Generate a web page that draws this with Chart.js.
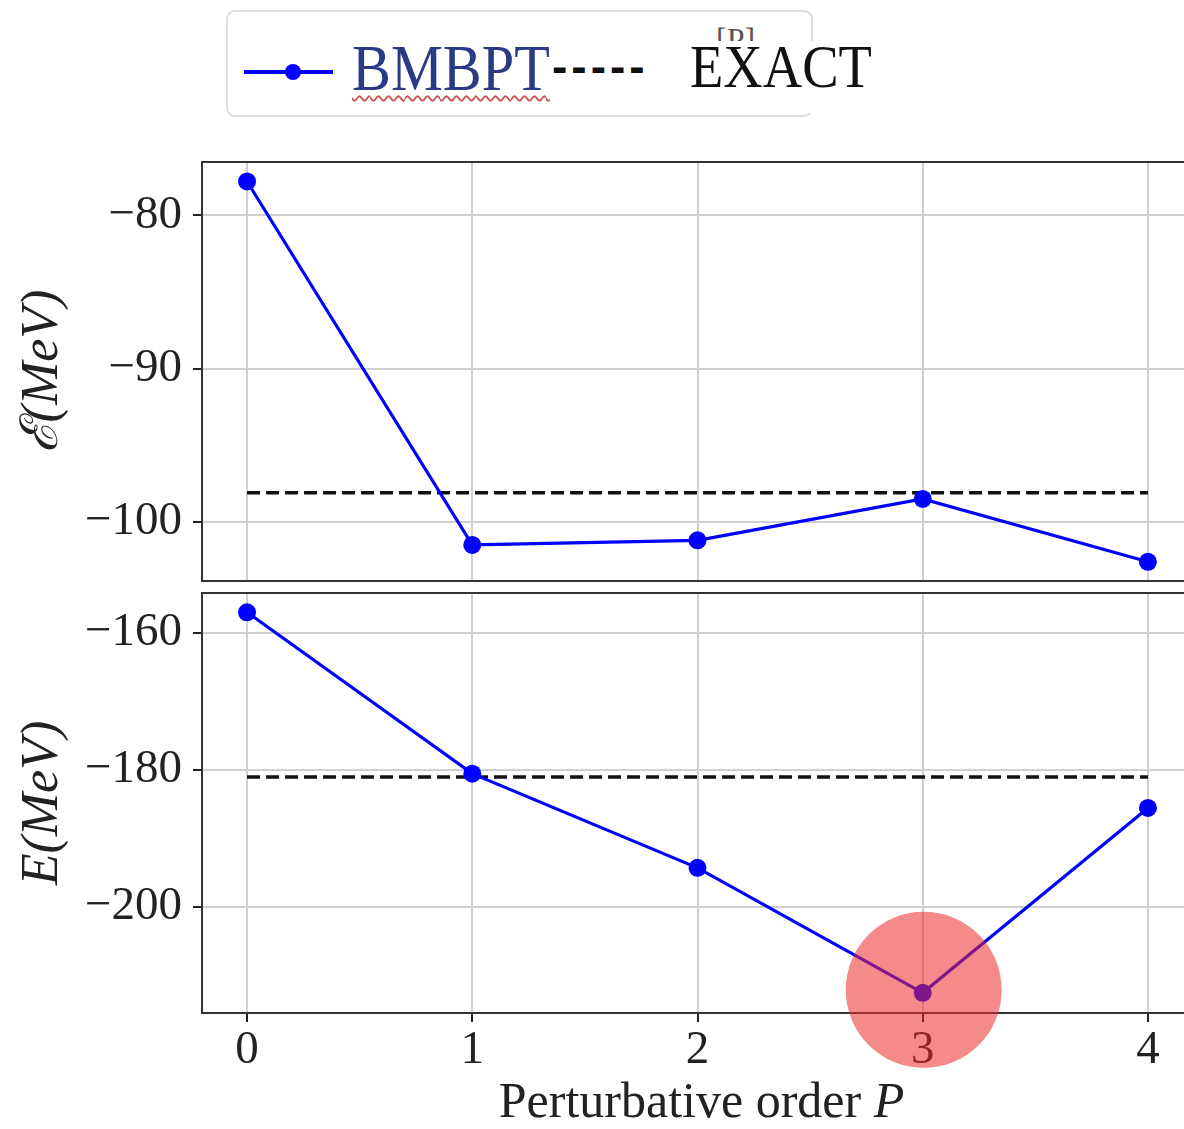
<!DOCTYPE html>
<html>
<head>
<meta charset="utf-8">
<script src="https://cdn.jsdelivr.net/npm/chart.js@4.4.0/dist/chart.umd.min.js"></script>
<style>
  html, body { margin: 0; padding: 0; background: #fff; overflow: hidden; }
  #page { position: relative; width: 1184px; height: 1129px; overflow: hidden; background: #fff; }
  .abs { position: absolute; }
  #legendBox { left: 226px; top: 10px; width: 587px; height: 107px; box-sizing: border-box;
               border: 2px solid #dcdcdc; border-radius: 9px; background: #fff; }
  #lgLine { left: 244px; top: 70px; width: 89px; height: 4px; background: #0000ff; }
  #lgDot { left: 285px; top: 64px; width: 16px; height: 16px; border-radius: 50%; background: #0000ff; }
  #lgName { left: 352px; top: 35px; font-family: 'Liberation Serif', serif; font-size: 66px; line-height: 1;
            color: #2b3a86; white-space: nowrap; transform: scaleX(0.884); transform-origin: left top;
            text-decoration: underline wavy #c85050; text-decoration-thickness: 1.5px; text-underline-offset: 5px; }
  #lgDash { left: 552px; top: 43px; font-family: 'Liberation Sans', sans-serif; font-weight: bold; font-size: 46px;
            line-height: 1; letter-spacing: 4px; color: #111; white-space: nowrap; }
  #lgRef { left: 716px; top: 23px; font-family: 'Liberation Serif', serif; font-size: 32px; line-height: 1; color: #555; }
  #lgCover { left: 684px; top: 41px; width: 220px; height: 72px; background: #fff; }
  #lgExact { left: 690px; top: 35px; font-family: 'Liberation Serif', serif; font-size: 62px; line-height: 1;
             color: #111; white-space: nowrap; transform: scaleX(0.88); transform-origin: left top; }
  canvas { position: absolute; left: 0; }
</style>
</head>
<body>
<div id="page">
  <div id="legendBox" class="abs"></div>
  <div id="lgLine" class="abs"></div>
  <div id="lgDot" class="abs"></div>
  <div id="lgName" class="abs">BMBPT</div>
  <div id="lgDash" class="abs">-----</div>
  <div id="lgRef" class="abs">[P]</div>
  <div id="lgCover" class="abs"></div>
  <div id="lgExact" class="abs">EXACT</div>

  <canvas id="epsChart" width="1240" height="440" style="top:150px;width:1240px;height:440px"></canvas>
  <canvas id="energyChart" width="1240" height="546" style="top:583px;width:1240px;height:546px"></canvas>
</div>

<script>
// Perturbative orders on the shared x axis
const orders = [0, 1, 2, 3, 4];

// Upper panel: ℰ (MeV) per order, and the exact reference value
const bmbptEps = [-77.8, -101.5, -101.2, -98.5, -102.6];
const exactEps = -98.1;

// Lower panel: E (MeV) per order, and the exact reference value
const bmbptE = [-157.05, -180.6, -194.35, -212.6, -185.6];
const exactE = -181.1;

// Axis ranges and tick spacing
const xRange = [-0.2, 4.2];
const epsRange = [-103.85, -76.53];
const energyRange = [-215.54, -154.23];
const epsStep = 10;
const energyStep = 20;

// Order singled out with a highlight disc
const highlightOrder = 3;

const TEXT = '#222';
const GRID = '#d0d0d0';
Chart.defaults.font.family = "'Liberation Serif', 'DejaVu Serif', serif";
Chart.defaults.color = TEXT;

const minusFmt = v => (v < 0 ? '\u2212' + Math.abs(v) : String(v));

const framePlugin = {
  id: 'frame',
  afterDatasetsDraw(chart) {
    const { ctx, chartArea: a } = chart;
    ctx.save();
    ctx.strokeStyle = '#333';
    ctx.lineWidth = 2;
    ctx.strokeRect(a.left, a.top, a.right - a.left, a.bottom - a.top);
    ctx.restore();
  }
};

const xTitlePlugin = {
  id: 'xTitle',
  afterDraw(chart) {
    const { ctx, chartArea: a } = chart;
    const plain = 'Perturbative order ';
    const ital = 'P';
    ctx.save();
    ctx.fillStyle = TEXT;
    ctx.textBaseline = 'alphabetic';
    ctx.font = "50px 'Liberation Serif', serif";
    const w1 = ctx.measureText(plain).width;
    ctx.font = "italic 50px 'Liberation Serif', serif";
    const w2 = ctx.measureText(ital).width;
    const cx = (a.left + a.right) / 2 + 4;
    const x0 = cx - (w1 + w2) / 2;
    const y = a.bottom + 104;
    ctx.font = "50px 'Liberation Serif', serif";
    ctx.fillText(plain, x0, y);
    ctx.font = "italic 50px 'Liberation Serif', serif";
    ctx.fillText(ital, x0 + w1, y);
    ctx.restore();
  }
};

const highlightPlugin = {
  id: 'highlight',
  afterDraw(chart) {
    const idx = orders.indexOf(highlightOrder);
    const pt = chart.getDatasetMeta(0).data[idx];
    if (!pt) return;
    const { ctx } = chart;
    ctx.save();
    ctx.fillStyle = 'rgba(235, 40, 40, 0.544)';
    ctx.beginPath();
    ctx.arc(pt.x + 1, pt.y - 3, 78, 0, Math.PI * 2);
    ctx.fill();
    ctx.restore();
  }
};

function makePanel(canvasId, values, exact, yRange, yStep, yTitle, isBottom) {
  const plugins = [framePlugin];
  if (isBottom) plugins.push(xTitlePlugin, highlightPlugin);
  return new Chart(document.getElementById(canvasId), {
    type: 'line',
    data: {
      datasets: [
        {
          label: 'BMBPT',
          data: orders.map((x, i) => ({ x, y: values[i] })),
          borderColor: '#0000ff',
          backgroundColor: '#0000ff',
          borderWidth: 3.2,
          pointRadius: 9,
          pointBorderWidth: 0,
          pointBackgroundColor: '#0000ff',
          tension: 0,
          clip: false
        },
        {
          label: 'EXACT',
          data: orders.map(x => ({ x, y: exact })),
          borderColor: '#111',
          borderWidth: 3.5,
          borderDash: [13, 6],
          pointRadius: 0,
          tension: 0,
          clip: false
        }
      ]
    },
    options: {
      responsive: false,
      animation: false,
      devicePixelRatio: 1,
      events: [],
      layout: { padding: isBottom ? { top: 10, bottom: 0, left: 0, right: 47 }
                                  : { top: 12, bottom: 9, left: 0, right: 47 } },
      plugins: { legend: { display: false }, tooltip: { enabled: false } },
      scales: {
        x: {
          type: 'linear',
          min: xRange[0],
          max: xRange[1],
          ticks: { display: isBottom, stepSize: 1, includeBounds: false, padding: 0,
                   color: TEXT, font: { size: 47 }, callback: v => String(v) },
          grid: { color: GRID, lineWidth: 2, drawTicks: isBottom, tickColor: TEXT, tickLength: 9, tickWidth: 2 },
          border: { display: false },
          afterFit(s) { s.height = isBottom ? 116 : 0; s.paddingLeft = 0; s.paddingRight = 0; }
        },
        y: {
          type: 'linear',
          min: yRange[0],
          max: yRange[1],
          ticks: { stepSize: yStep, includeBounds: false, padding: 11, color: TEXT,
                   font: { size: 47 }, callback: minusFmt },
          grid: { color: GRID, lineWidth: 2, tickColor: TEXT, tickLength: 9, tickWidth: 2 },
          border: { display: false },
          title: { display: true, text: yTitle, color: TEXT,
                   font: { size: 52, style: 'italic' }, padding: { top: 12, bottom: 0 } },
          afterFit(s) { s.width = 202; s.paddingTop = 0; s.paddingBottom = 0; }
        }
      }
    },
    plugins
  });
}

makePanel('epsChart', bmbptEps, exactEps, epsRange, epsStep, '\u2130(MeV)', false);
makePanel('energyChart', bmbptE, exactE, energyRange, energyStep, 'E(MeV)', true);
</script>
</body>
</html>
